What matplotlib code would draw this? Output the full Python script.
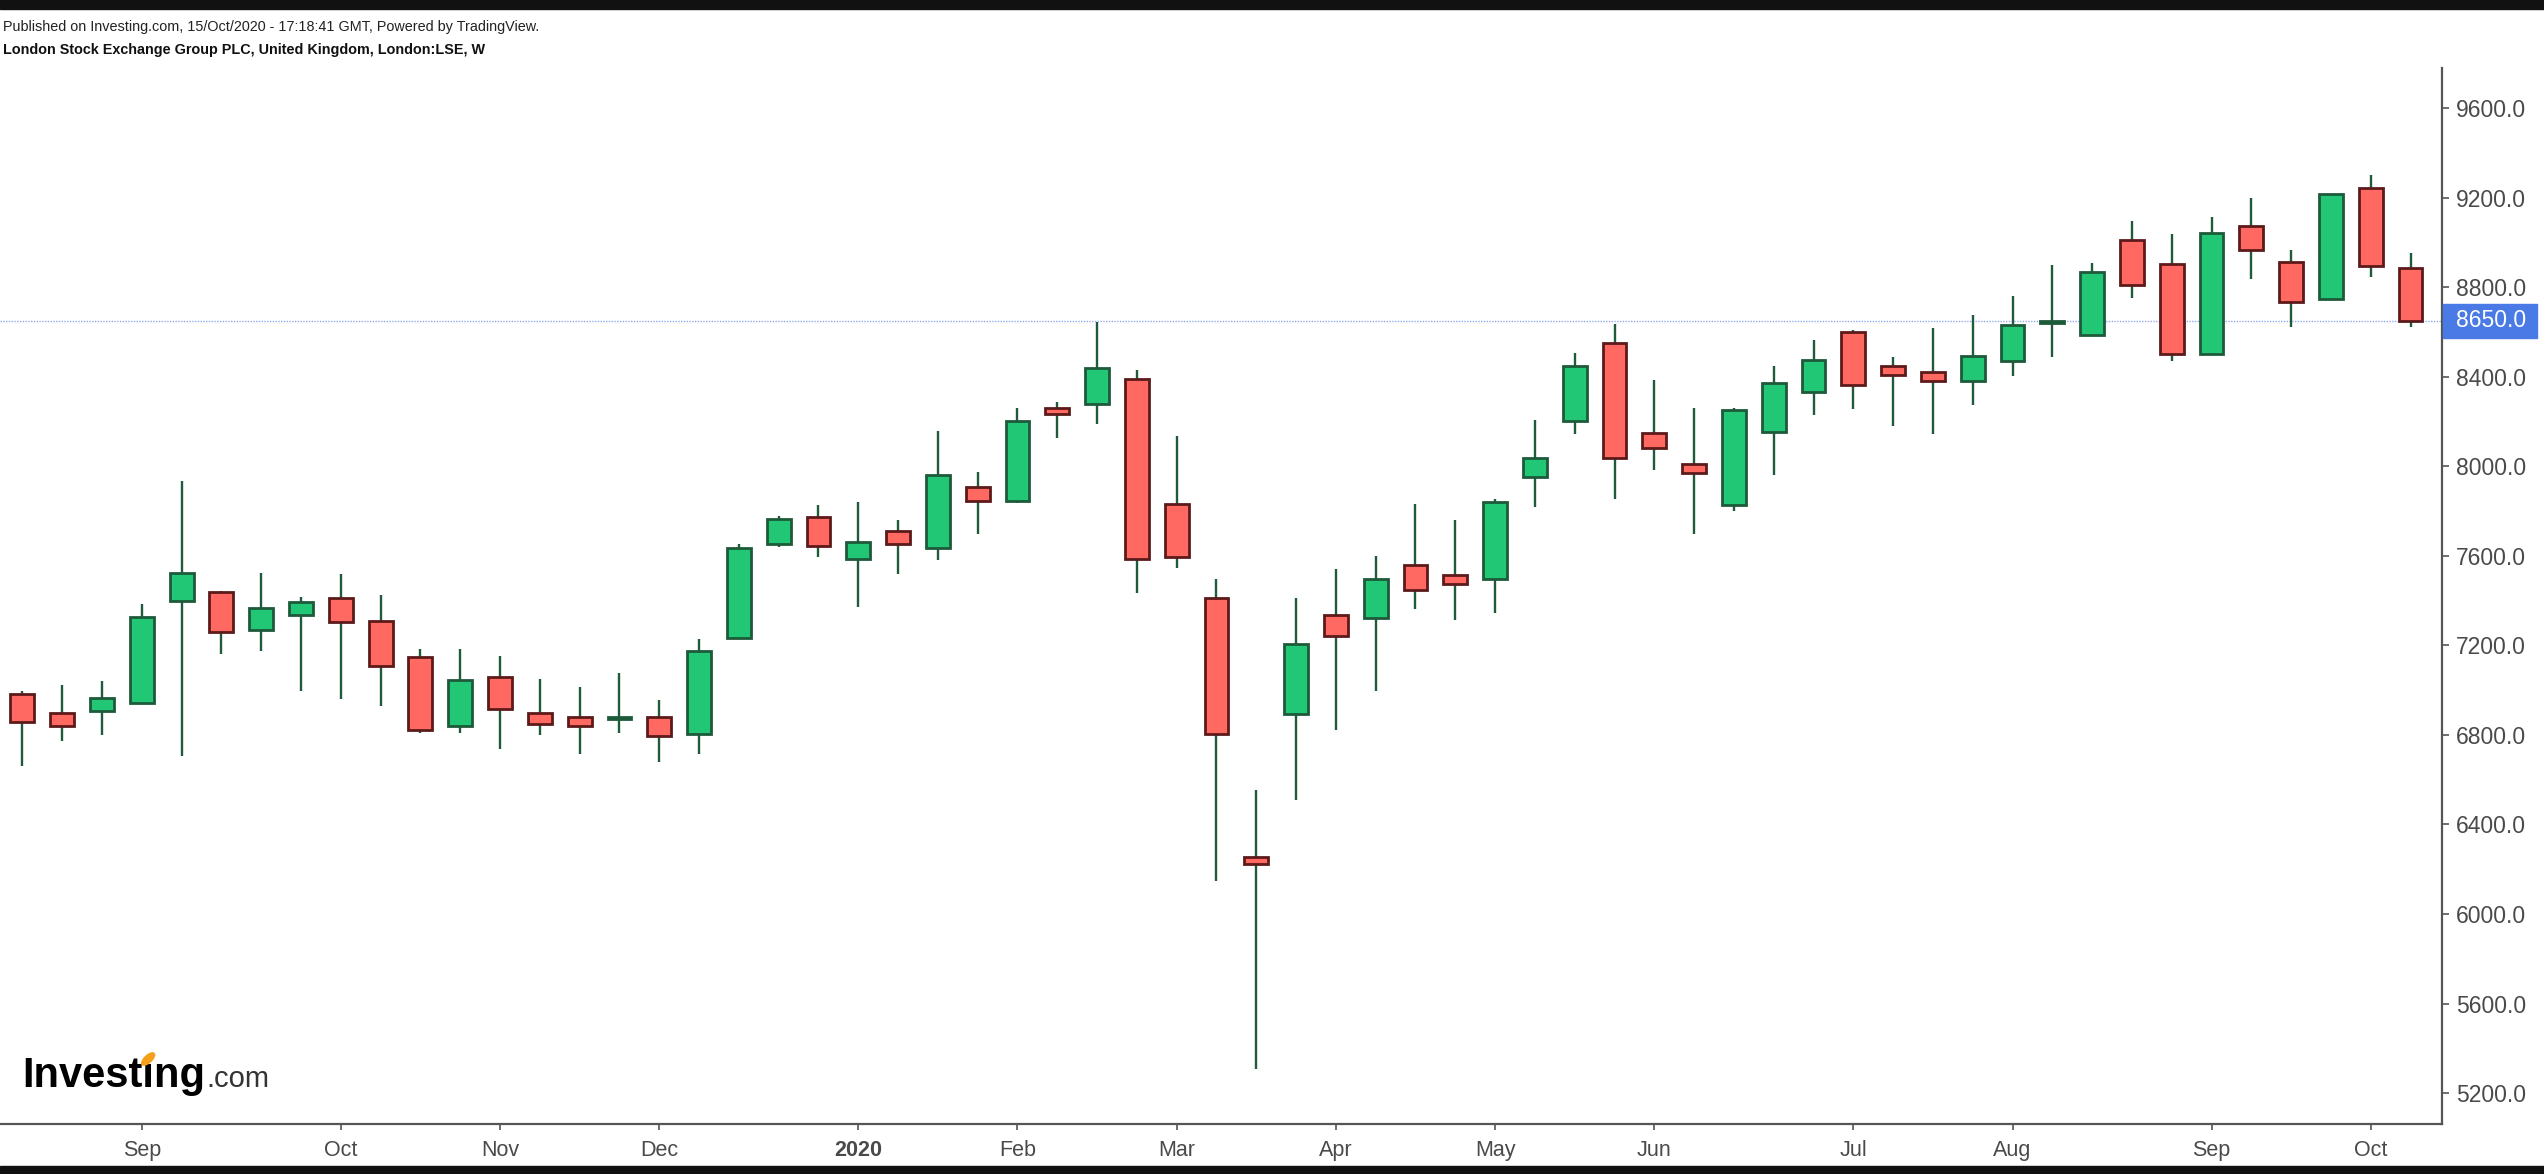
import numpy as np
import matplotlib.pyplot as plt
from matplotlib.patches import Rectangle, Ellipse
from matplotlib.ticker import FormatStrFormatter
from matplotlib.transforms import blended_transform_factory

# weekly candles, LSE:LSE, week of 19 Aug 2019 .. week of 12 Oct 2020
opens = [6983, 6898, 6905, 6943, 7399, 7439, 7268, 7334, 7413, 7308,
         7150, 6839, 7058, 6898, 6879, 6870, 6879, 6802, 7232, 7651,
         7774, 7587, 7709, 7634, 7907, 7847, 8259, 8278, 8392, 7832,
         7411, 6253, 6895, 7336, 7324, 7561, 7513, 7496, 7951, 8203,
         8549, 8150, 8009, 7829, 8155, 8333, 8598, 8448, 8420, 8379,
         8472, 8641, 8585, 9009, 8905, 8501, 9074, 8914, 8746, 9242,
         8887]
highs = [6994, 7023, 7039, 7386, 7935, 7441, 7525, 7415, 7517, 7423,
         7182, 7182, 7152, 7050, 7013, 7077, 6957, 7228, 7655, 7777,
         7825, 7842, 7760, 8159, 7973, 8261, 8288, 8646, 8430, 8133,
         7498, 6554, 7413, 7542, 7600, 7832, 7760, 7852, 8205, 8506,
         8637, 8385, 8262, 8262, 8449, 8562, 8607, 8488, 8618, 8675,
         8759, 8899, 8907, 9096, 9038, 9112, 9198, 8964, 9214, 9301,
         8954]
lows = [6659, 6771, 6799, 6940, 6707, 7163, 7173, 6994, 6959, 6930,
        6810, 6810, 6735, 6799, 6716, 6810, 6678, 6716, 7230, 7640,
        7595, 7370, 7518, 7583, 7697, 7837, 8125, 8191, 7435, 7547,
        6147, 5309, 6510, 6820, 6997, 7363, 7314, 7343, 7818, 8145,
        7855, 7985, 7696, 7800, 7959, 8227, 8255, 8181, 8142, 8275,
        8405, 8490, 8585, 8751, 8472, 8501, 8835, 8620, 8746, 8844,
        8620]
closes = [6858, 6839, 6964, 7327, 7522, 7260, 7366, 7393, 7305, 7110,
          6822, 7047, 6914, 6849, 6839, 6880, 6793, 7177, 7635, 7766,
          7643, 7663, 7653, 7963, 7847, 8203, 8232, 8438, 7585, 7595,
          6803, 6224, 7205, 7241, 7496, 7447, 7476, 7840, 8036, 8447,
          8035, 8083, 7970, 8251, 8372, 8475, 8361, 8407, 8379, 8494,
          8633, 8647, 8868, 8811, 8501, 9044, 8968, 8735, 9214, 8896,
          8650]

month_pos = [3, 8, 12, 16, 21, 25, 29, 33, 37, 41, 46, 50, 55, 59]
month_labels = ['Sep', 'Oct', 'Nov', 'Dec', '2020', 'Feb', 'Mar', 'Apr',
                'May', 'Jun', 'Jul', 'Aug', 'Sep', 'Oct']
price_ticks = np.arange(5200, 9601, 400)
last_price = 8650.0

plt.rcParams['font.family'] = ['Liberation Sans', 'DejaVu Sans']

W, H = 2544, 1174
fig = plt.figure(figsize=(W / 100, H / 100), dpi=100)
ax = fig.add_axes([0, 1 - 1124 / H, 2442 / W, (1124 - 68) / H])

o = np.array(opens, float)
c = np.array(closes, float)
x = np.arange(len(o))
up = c >= o

green, green_edge = '#22c776', '#1d5a3a'
red, red_edge = '#ff6961', '#5c1a1a'
wick = '#1f5a3b'

ax.vlines(x, lows, highs, color=wick, lw=1.7, zorder=2)
bottoms = np.minimum(o, c)
heights = np.abs(c - o)
ax.bar(x[up], heights[up], bottom=bottoms[up], width=0.6,
       color=green, edgecolor=green_edge, linewidth=2, zorder=3)
ax.bar(x[~up], heights[~up], bottom=bottoms[~up], width=0.6,
       color=red, edgecolor=red_edge, linewidth=2, zorder=3)

# last price line
ax.axhline(last_price, color='#93a9ef', lw=1, ls=(0, (1, 1)), zorder=1)

ax.set_xlim(-0.563, 60.79)
ax.set_ylim(5062, 9779)

for s in ['left', 'top']:
    ax.spines[s].set_visible(False)
for s in ['right', 'bottom']:
    ax.spines[s].set_color('#555555')
    ax.spines[s].set_linewidth(1.6)

ax.yaxis.tick_right()
ax.set_yticks(price_ticks)
ax.yaxis.set_major_formatter(FormatStrFormatter('%.1f'))
ax.set_xticks(month_pos)
ax.set_xticklabels(month_labels)
ax.tick_params(axis='y', direction='out', length=5, width=1.2, colors='#555555',
               labelcolor='#4a4a4a', labelsize=16.5, pad=5)
ax.tick_params(axis='x', direction='out', length=4.5, width=1.2, colors='#555555',
               labelcolor='#4a4a4a', labelsize=15.5, pad=7)
for lab in ax.get_xticklabels():
    if lab.get_text() == '2020':
        lab.set_fontweight('bold')

# partial "Aug" cut off at left edge, as in the original
tr = blended_transform_factory(ax.transData, fig.transFigure)
ax.text(-1, 1 - 1152 / H, 'Aug', transform=tr, ha='center', va='center',
        fontsize=15.5, color='#4a4a4a', clip_on=False)

# price label box
fig.canvas.draw()
yp = ax.transData.transform((0, last_price))[1]
fig.patches.append(Rectangle((2443 / W, (yp - 17) / H), 94 / W, 34 / H,
                             transform=fig.transFigure, color='#4a7ae6', zorder=5))
fig.text(2456 / W, yp / H, '%.1f' % last_price, color='white', fontsize=16.5,
         ha='left', va='center', zorder=6)

# black bands top and bottom
fig.patches.append(Rectangle((0, 1 - 9 / H), 1, 9 / H, transform=fig.transFigure,
                             color='#111111', zorder=10))
fig.patches.append(Rectangle((0, 0), 1, 8 / H, transform=fig.transFigure,
                             color='#111111', zorder=10))

fig.text(3 / W, 1 - 27 / H,
         'Published on Investing.com, 15/Oct/2020 - 17:18:41 GMT, Powered by TradingView.',
         fontsize=10.4, color='#222222', va='center')
fig.text(3 / W, 1 - 50 / H,
         'London Stock Exchange Group PLC, United Kingdom, London:LSE, W',
         fontsize=10.4, fontweight='bold', color='#111111', va='center')

# Investing.com logo
r = fig.canvas.get_renderer()
base = 1 - 1087 / H
logo = fig.text(22 / W, base, 'Investing', fontsize=30, fontweight='bold',
                color='black', va='baseline')
tmp = fig.text(22 / W, base, 'Invest', fontsize=30, fontweight='bold', va='baseline')
w1 = tmp.get_window_extent(r).width
tmp.set_text('Investi')
w2 = tmp.get_window_extent(r).width
tmp.remove()
w_logo = logo.get_window_extent(r).width
xi = 22 + (w1 + w2) / 2
fig.patches.append(Ellipse((xi / W, 1 - 1059 / H), 9 / W, 13 / H, angle=-20,
                           transform=fig.transFigure, color='#f5a01a', zorder=7))
fig.text((22 + w_logo + 1) / W, base, '.com', fontsize=21, color='#333333',
         va='baseline')

fig.savefig('out.png', dpi=100)
